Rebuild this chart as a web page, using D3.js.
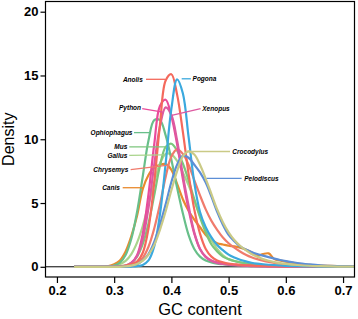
<!DOCTYPE html>
<html>
<head>
<meta charset="utf-8">
<title>GC content density</title>
<script src="https://d3js.org/d3.v7.min.js"></script>
<style>
body { margin: 0; background: #fff; }
svg text { font-family: "Liberation Sans", Arial, Helvetica, sans-serif; fill: #000; }
.tick text { font-size: 13px; font-weight: bold; }
.tick line { stroke: #000; }
.species { font-size: 6.5px; font-weight: bold; font-style: italic; }
.curve { fill: none; stroke-width: 2.2; stroke-linejoin: round; }
.leader { stroke-width: 1.3; }
</style>
</head>
<body>
<div id="chart"></div>
<script>
// shared GC grid (x) and density for each genome
var gc = [0.23,0.26,0.28,0.29,0.30,0.31,0.32,0.33,0.34,0.35,
          0.36,0.37,0.38,0.39,0.40,0.41,0.42,0.43,0.44,0.45,
          0.46,0.47,0.48,0.49,0.50,0.51,0.52,0.53,0.54,0.55,
          0.56,0.57,0.58,0.59,0.60,0.62,0.64,0.66,0.69,0.72];

var canis       = [0,0,0.02,0.05,0.2,0.5,1.2,2.4,4.0,6.1, 7.2,7.8,8.0,8.05,7.6,6.5,5.3,4.4,3.7,3.1, 2.5,2.1,1.85,1.75,1.65,1.6,1.5,1.35,1.15,0.85, 1.0,1.05,0.6,0.5,0.4,0.25,0.15,0.1,0.05,0.02];
var gallus      = [0,0,0,0,0.07,0.2,0.46,1.0,1.9,3.2, 4.9,6.6,8.1,8.85,8.8,8.3,7.4,6.4,5.2,4.0, 2.9,2.1,1.4,0.9,0.6,0.45,0.35,0.27,0.2,0.16, 0.13,0.1,0.08,0.06,0.05,0.03,0.02,0.01,0.01,0];
var mus         = [0,0,0,0,0.03,0.05,0.1,0.3,0.8,1.8, 3.4,5.6,7.9,9.4,9.65,9.1,8.1,6.8,5.3,3.9, 2.7,1.75,1.2,0.8,0.6,0.45,0.35,0.28,0.22,0.18, 0.15,0.12,0.1,0.08,0.07,0.05,0.03,0.02,0.01,0];
var ophiophagus = [0,0,0,0,0.1,0.33,0.93,2.2,4.3,7.1, 9.9,11.5,11.5,10.3,8.4,6.2,4.2,2.5,1.4,0.8, 0.5,0.35,0.25,0.2,0.15,0.12,0.1,0.08,0.06,0.05, 0.04,0.03,0.03,0.02,0.02,0.01,0.01,0,0,0];
var chrysemys   = [0,0,0,0,0,0,0.03,0.1,0.27,0.7, 1.57,3.0,4.9,7.05,8.65,9.2,8.85,8.0,6.8,5.6, 4.5,3.6,2.9,2.3,1.85,1.5,1.2,0.95,0.75,0.6, 0.48,0.38,0.3,0.24,0.2,0.13,0.08,0.05,0.02,0.01];
var python      = [0,0,0,0,0,0.02,0.08,0.3,0.9,2.6, 5.7,9.6,12.6,13.1,11.8,9.6,6.9,4.5,2.6,1.4, 0.8,0.5,0.35,0.27,0.2,0.16,0.12,0.1,0.08,0.06, 0.05,0.04,0.03,0.03,0.02,0.02,0.01,0.01,0,0];
var xenopus     = [0,0,0,0,0,0.02,0.08,0.3,0.85,2.2, 4.6,8.0,11.0,12.5,11.9,9.9,7.2,4.8,2.7,1.4, 0.75,0.45,0.3,0.22,0.16,0.12,0.1,0.08,0.06,0.05, 0.04,0.03,0.03,0.02,0.02,0.01,0.01,0,0,0];
var anolis      = [0,0,0,0,0.02,0.05,0.1,0.2,0.4,1.1, 3.0,6.6,11.1,14.6,15.1,13.5,10.6,7.3,4.5,2.6, 1.4,0.8,0.5,0.35,0.25,0.2,0.15,0.12,0.1,0.08, 0.07,0.06,0.05,0.04,0.04,0.03,0.02,0.02,0.01,0];
var pogona      = [0,0,0,0,0,0,0,0.02,0.05,0.15, 0.5,1.6,4.1,8.1,12.4,14.7,13.6,10.2,6.6,4.3, 3.1,2.3,1.7,1.3,0.95,0.72,0.55,0.42,0.32,0.25, 0.2,0.16,0.13,0.1,0.08,0.05,0.03,0.02,0.01,0];
var pelodiscus  = [0,0,0,0,0,0,0.02,0.08,0.2,0.5, 1.0,1.95,3.3,4.9,6.65,8.0,8.7,8.55,8.0,7.4, 6.6,5.5,4.3,3.3,2.5,2.0,1.6,1.35,1.15,1.0, 0.88,0.76,0.64,0.53,0.44,0.3,0.2,0.12,0.06,0.03];
var crocodylus  = [0,0,0,0,0,0,0.03,0.09,0.22,0.48, 0.96,1.7,2.9,4.35,6.0,7.5,8.65,9.05,8.8,8.0, 6.9,5.7,4.5,3.5,2.7,2.1,1.65,1.3,1.0,0.78, 0.6,0.47,0.37,0.29,0.23,0.14,0.08,0.05,0.02,0.01];

var xTicks = [0.2, 0.3, 0.4, 0.5, 0.6, 0.7];
var yTicks = [0, 5, 10, 15, 20];

var series = [
  {name: "Canis", values: canis},
  {name: "Gallus", values: gallus},
  {name: "Mus", values: mus},
  {name: "Ophiophagus", values: ophiophagus},
  {name: "Chrysemys", values: chrysemys},
  {name: "Python", values: python},
  {name: "Xenopus", values: xenopus},
  {name: "Anolis", values: anolis},
  {name: "Pogona", values: pogona},
  {name: "Pelodiscus", values: pelodiscus},
  {name: "Crocodylus", values: crocodylus}
];

var colors = {
  Canis: "#e98a2e", Gallus: "#a9d48c", Mus: "#7cc67c", Ophiophagus: "#68bf8a",
  Chrysemys: "#f07b6c", Python: "#e94b9b", Xenopus: "#dd5aa0", Anolis: "#f4695c",
  Pogona: "#3ba9de", Pelodiscus: "#5c8ed6", Crocodylus: "#caca86"
};

// label annotations, in data units: text anchor point + leader line to the curve
var labels = [
  {name: "Anolis",      tx: 0.350, ty: 14.7,  side: "end",   x1: 0.3556, y1: 14.7,  x2: 0.389,  y2: 14.7},
  {name: "Pogona",      tx: 0.437, ty: 14.74, side: "start", x1: 0.434,  y1: 14.74, x2: 0.418,  y2: 14.74},
  {name: "Python",      tx: 0.347, ty: 12.46, side: "end",   x1: 0.349,  y1: 12.4,  x2: 0.385,  y2: 12.13},
  {name: "Xenopus",     tx: 0.454, ty: 12.4,  side: "start", x1: 0.451,  y1: 12.4,  x2: 0.4005, y2: 11.875},
  {name: "Ophiophagus", tx: 0.332, ty: 10.52, side: "end",   x1: 0.3346, y1: 10.52, x2: 0.3626, y2: 10.52},
  {name: "Mus",         tx: 0.323, ty: 9.40,  side: "end",   x1: 0.3264, y1: 9.40,  x2: 0.3918, y2: 9.40},
  {name: "Gallus",      tx: 0.323, ty: 8.73,  side: "end",   x1: 0.3264, y1: 8.73,  x2: 0.3858, y2: 8.78},
  {name: "Chrysemys",   tx: 0.3247, ty: 7.62, side: "end",   x1: 0.3288, y1: 7.62,  x2: 0.3946, y2: 7.97},
  {name: "Canis",       tx: 0.310, ty: 6.2,   side: "end",   x1: 0.3149, y1: 6.2,   x2: 0.3509, y2: 6.2},
  {name: "Crocodylus",  tx: 0.5065, ty: 9.04, side: "start", x1: 0.5024, y1: 9.04,  x2: 0.4273, y2: 9.04},
  {name: "Pelodiscus",  tx: 0.5274, ty: 6.93, side: "start", x1: 0.5228, y1: 6.93,  x2: 0.4617, y2: 6.93}
];

var W = 358, H = 319;
var plot = {left: 45.5, right: 354.5, top: 1.5, bottom: 277};

var svg = d3.select("#chart").append("svg")
    .attr("width", W)
    .attr("height", H);

var x = d3.scaleLinear().domain([0.18, 0.72]).range([plot.left, plot.right]);
var y = d3.scaleLinear().domain([-0.8, 20.8]).range([plot.bottom, plot.top]);

svg.append("defs").append("clipPath")
    .attr("id", "clip")
  .append("rect")
    .attr("x", plot.left)
    .attr("y", plot.top)
    .attr("width", plot.right - plot.left)
    .attr("height", plot.bottom - plot.top);

// zero line
svg.append("line")
    .attr("x1", plot.left).attr("x2", plot.right)
    .attr("y1", y(0)).attr("y2", y(0))
    .attr("stroke", "#000")
    .attr("stroke-width", 1);

var line = d3.line()
    .x(function(d) { return x(d[0]); })
    .y(function(d) { return y(d[1]); })
    .curve(d3.curveCatmullRom.alpha(0.5));

svg.append("g")
    .attr("clip-path", "url(#clip)")
  .selectAll("path")
  .data(series)
  .enter().append("path")
    .attr("class", "curve")
    .attr("stroke", function(d) { return colors[d.name]; })
    .attr("d", function(d) { return line(d.values.map(function(v, i) { return [gc[i], v]; })); });

// leaders + labels
var lab = svg.append("g");
lab.selectAll("line")
  .data(labels)
  .enter().append("line")
    .attr("class", "leader")
    .attr("stroke", function(d) { return colors[d.name]; })
    .attr("x1", function(d) { return x(d.x1); })
    .attr("y1", function(d) { return y(d.y1); })
    .attr("x2", function(d) { return x(d.x2); })
    .attr("y2", function(d) { return y(d.y2); });

lab.selectAll("text")
  .data(labels)
  .enter().append("text")
    .attr("class", "species")
    .attr("x", function(d) { return x(d.tx); })
    .attr("y", function(d) { return y(d.ty); })
    .attr("dy", "0.35em")
    .attr("text-anchor", function(d) { return d.side; })
    .text(function(d) { return d.name; });

// box
svg.append("rect")
    .attr("x", plot.left).attr("y", plot.top)
    .attr("width", plot.right - plot.left)
    .attr("height", plot.bottom - plot.top)
    .attr("fill", "none")
    .attr("stroke", "#000")
    .attr("stroke-width", 1.2);

var yAxis = svg.append("g")
    .attr("transform", "translate(" + plot.left + ",0)")
    .call(d3.axisLeft(y).tickValues(yTicks).tickSize(5).tickPadding(2));
yAxis.select(".domain").remove();

var xAxis = svg.append("g")
    .attr("transform", "translate(0," + plot.bottom + ")")
    .call(d3.axisBottom(x).tickValues(xTicks).tickFormat(d3.format(".1f")).tickSize(6).tickPadding(3));
xAxis.select(".domain").remove();

svg.selectAll(".tick line").attr("stroke-width", 1.2);

svg.append("text")
    .attr("x", (plot.left + plot.right) / 2)
    .attr("y", 315)
    .attr("text-anchor", "middle")
    .style("font-size", "16.5px")
    .text("GC content");

svg.append("text")
    .attr("transform", "translate(14," + ((plot.top + plot.bottom) / 2) + ") rotate(-90)")
    .attr("text-anchor", "middle")
    .style("font-size", "16px")
    .text("Density");
</script>
</body>
</html>
